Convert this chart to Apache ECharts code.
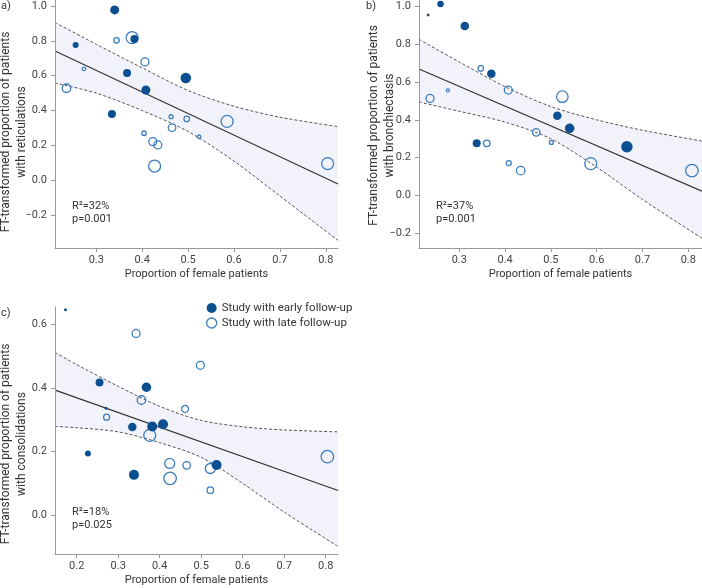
<!DOCTYPE html>
<html>
<head>
<meta charset="utf-8">
<script src="https://cdn.jsdelivr.net/npm/echarts@6/dist/echarts.min.js"></script>
<style>
html, body { margin: 0; padding: 0; background: #fff; }
#main { width: 702px; height: 588px; }
</style>
</head>
<body>
<div id="main"></div>
<script>
// points are [proportion female, FT-transformed proportion, study weight]
// a) reticulations
var reticEarly = [[0.340, 0.977, 9], [0.255, 0.776, 6], [0.383, 0.811, 8], [0.367, 0.616, 8],
    [0.495, 0.587, 10.5], [0.408, 0.518, 9], [0.334, 0.380, 8]];
var reticLate = [[0.235, 0.528, 8.5], [0.273, 0.639, 3.5], [0.344, 0.803, 5.5], [0.378, 0.818, 12],
    [0.406, 0.679, 8], [0.463, 0.365, 4], [0.497, 0.352, 5.5], [0.465, 0.302, 7.5], [0.404, 0.270, 4.5],
    [0.423, 0.222, 8], [0.434, 0.203, 8], [0.427, 0.082, 12], [0.524, 0.250, 3.5], [0.585, 0.338, 12],
    [0.804, 0.096, 12]];
var reticBandX = [0.21, 0.3, 0.4, 0.5, 0.6, 0.7, 0.8266];
var reticUpper = [0.905, 0.78, 0.645, 0.515, 0.425, 0.362, 0.308];
var reticLower = [0.558, 0.50, 0.40, 0.28, 0.11, -0.09, -0.345];
var reticFit = [[0.21, 0.742], [0.8266, -0.021]];

// b) bronchiectasis
var bronchEarly = [[0.259, 1.011, 6.5], [0.312, 0.895, 8.5], [0.370, 0.643, 8.5], [0.514, 0.422, 8.5],
    [0.541, 0.355, 9.5], [0.338, 0.276, 8], [0.666, 0.258, 11.5]];
var bronchLate = [[0.236, 0.513, 8], [0.275, 0.555, 3], [0.347, 0.671, 5.5], [0.407, 0.557, 8],
    [0.525, 0.522, 11.5], [0.468, 0.334, 7.5], [0.501, 0.281, 4], [0.360, 0.276, 6.5], [0.408, 0.172, 5],
    [0.434, 0.132, 8.5], [0.587, 0.169, 12], [0.808, 0.132, 12.5]];
var bronchOther = [[0.232, 0.953, 2.5]];
var bronchBandX = [0.212, 0.3, 0.4, 0.5, 0.6, 0.7, 0.83];
var bronchUpper = [0.825, 0.705, 0.575, 0.47, 0.40, 0.345, 0.288];
var bronchLower = [0.494, 0.445, 0.388, 0.30, 0.15, -0.02, -0.225];
var bronchFit = [[0.212, 0.668], [0.83, 0.024]];

// c) consolidations
var consolEarly = [[0.173, 0.645, 3], [0.255, 0.417, 8], [0.368, 0.402, 9.5], [0.271, 0.336, 3],
    [0.334, 0.277, 8.5], [0.382, 0.279, 10], [0.408, 0.286, 10], [0.227, 0.194, 6], [0.338, 0.127, 10],
    [0.537, 0.158, 10]];
var consolLate = [[0.343, 0.571, 8], [0.498, 0.471, 8], [0.356, 0.362, 8.5], [0.461, 0.334, 7],
    [0.272, 0.308, 6], [0.376, 0.251, 12], [0.424, 0.163, 10], [0.465, 0.157, 7.5], [0.522, 0.147, 10],
    [0.425, 0.116, 12.5], [0.522, 0.079, 6.5], [0.804, 0.184, 12.5]];
var consolBandX = [0.148, 0.2, 0.3, 0.4, 0.5, 0.6, 0.7, 0.83];
var consolUpper = [0.511, 0.473, 0.405, 0.342, 0.298, 0.278, 0.268, 0.262];
var consolLower = [0.279, 0.275, 0.262, 0.228, 0.182, 0.10, 0.01, -0.098];
var consolFit = [[0.148, 0.393], [0.83, 0.078]];

var statsText = [['R\u00b2=32%', 'p=0.001'], ['R\u00b2=37%', 'p=0.001'], ['R\u00b2=18%', 'p=0.025']];
var yNames = ['FT-transformed proportion of patients\nwith reticulations',
    'FT-transformed proportion of patients\nwith bronchiectasis',
    'FT-transformed proportion of patients\nwith consolidations'];
var xTicksAB = [0.3, 0.4, 0.5, 0.6, 0.7, 0.8];
var xTicksC = [0.2, 0.3, 0.4, 0.5, 0.6, 0.7, 0.8];
var yTicksAB = [-0.2, 0, 0.2, 0.4, 0.6, 0.8, 1.0];
var yTicksC = [0, 0.2, 0.4, 0.6];

var FONT = 'Roboto, "Noto Sans", sans-serif';
var DARK = '#0b4f91';
var LIGHT = '#3b7dbf';
var BAND = '#f2f3fa';
var EARLY = 'Study with early follow-up';
var LATE = 'Study with late follow-up';

function fmt(v) {
    return (v < 0 ? '\u2212' : '') + Math.abs(v).toFixed(1);
}

function xAxisOf(idx, min, max, ticks) {
    return {
        type: 'value', gridIndex: idx, min: min, max: max,
        axisLine: { show: true, onZero: false, lineStyle: { color: '#999', width: 1 } },
        axisTick: { show: true, length: 4, customValues: ticks, lineStyle: { color: '#999' } },
        axisLabel: { customValues: ticks, formatter: fmt, fontSize: 11, color: '#444', margin: 7, fontFamily: FONT },
        splitLine: { show: false },
        name: 'Proportion of female patients', nameLocation: 'middle', nameGap: 21,
        nameTextStyle: { fontSize: 11, color: '#333', fontFamily: FONT },
        z: 10
    };
}

function yAxisOf(idx, min, max, ticks) {
    return {
        type: 'value', gridIndex: idx, min: min, max: max,
        axisLine: { show: true, onZero: false, lineStyle: { color: '#999', width: 1 } },
        axisTick: { show: true, length: 4, customValues: ticks, lineStyle: { color: '#999' } },
        axisLabel: { customValues: ticks, formatter: fmt, fontSize: 11, color: '#444', margin: 8, fontFamily: FONT },
        splitLine: { show: false },
        z: 10
    };
}

function panelSeries(idx, early, late, bandX, upper, lower, fit) {
    var dash = { color: '#555', width: 1, type: [3, 2] };
    return [{
        // upper CI, fill down to the axis
        type: 'line', xAxisIndex: idx, yAxisIndex: idx, silent: true,
        data: bandX.map(function (x, i) { return [x, upper[i]]; }),
        smooth: 0.3, symbol: 'none', lineStyle: dash,
        areaStyle: { color: BAND, opacity: 1, origin: 'start' }, z: 1
    }, {
        // lower CI, white below it leaves the band
        type: 'line', xAxisIndex: idx, yAxisIndex: idx, silent: true,
        data: bandX.map(function (x, i) { return [x, lower[i]]; }),
        smooth: 0.3, symbol: 'none', lineStyle: dash,
        areaStyle: { color: '#fff', opacity: 1, origin: 'start' }, z: 1
    }, {
        type: 'line', xAxisIndex: idx, yAxisIndex: idx, silent: true,
        data: fit, symbol: 'none', lineStyle: { color: '#333', width: 1.2 }, z: 2
    }, {
        type: 'scatter', name: LATE, xAxisIndex: idx, yAxisIndex: idx,
        data: late, symbol: 'circle',
        symbolSize: function (v) { return v[2]; },
        itemStyle: { color: 'rgba(255,255,255,0)', borderColor: LIGHT, borderWidth: 1.3, opacity: 1 }, z: 3
    }, {
        type: 'scatter', name: EARLY, xAxisIndex: idx, yAxisIndex: idx,
        data: early, symbol: 'circle',
        symbolSize: function (v) { return v[2]; },
        itemStyle: { color: DARK, opacity: 1 }, z: 4
    }];
}

var series = [].concat(
    panelSeries(0, reticEarly, reticLate, reticBandX, reticUpper, reticLower, reticFit),
    panelSeries(1, bronchEarly, bronchLate, bronchBandX, bronchUpper, bronchLower, bronchFit),
    panelSeries(2, consolEarly, consolLate, consolBandX, consolUpper, consolLower, consolFit)
);
series.push({
    type: 'scatter', name: 'other', xAxisIndex: 1, yAxisIndex: 1,
    data: bronchOther, symbol: 'rect',
    symbolSize: function (v) { return v[2]; },
    itemStyle: { color: '#111' }, z: 4
});

function txt(x, y, s, size, align, rot) {
    return {
        type: 'text', x: x, y: y, rotation: rot || 0, z: 100,
        style: {
            text: s, fill: '#333', font: size + 'px ' + FONT,
            align: align || 'left', verticalAlign: 'middle', lineHeight: 16
        }
    };
}

var graphics = [
    txt(1, 6, 'a)', 11), txt(366, 6, 'b)', 11), txt(1, 313, 'c)', 11),
    txt(72, 206, statsText[0][0], 11), txt(72, 219, statsText[0][1], 11),
    txt(436, 206, statsText[1][0], 11), txt(436, 219, statsText[1][1], 11),
    txt(72, 512.5, statsText[2][0], 11), txt(72, 525, statsText[2][1], 11),
    txt(13.5, 132, yNames[0], 12, 'center', Math.PI / 2),
    txt(382, 125.5, yNames[1], 12, 'center', Math.PI / 2),
    txt(13.5, 444, yNames[2], 12, 'center', Math.PI / 2)
];

var chart = echarts.init(document.getElementById('main'), null, { renderer: 'canvas' });
chart.setOption({
    animation: false,
    backgroundColor: '#fff',
    textStyle: { fontFamily: FONT },
    grid: [
        { left: 55, top: 0, width: 283, height: 248 },
        { left: 419, top: 0, width: 283, height: 248 },
        { left: 55, top: 307, width: 283, height: 247 }
    ],
    xAxis: [
        xAxisOf(0, 0.21, 0.8266, xTicksAB),
        xAxisOf(1, 0.212, 0.83, xTicksAB),
        xAxisOf(2, 0.1477, 0.8296, xTicksC)
    ],
    yAxis: [
        yAxisOf(0, -0.388, 1.034, yTicksAB),
        yAxisOf(1, -0.276, 1.032, yTicksAB),
        yAxisOf(2, -0.1215, 0.654, yTicksC)
    ],
    legend: {
        orient: 'vertical', left: 206, top: 302, padding: 0,
        itemWidth: 10, itemHeight: 10, itemGap: 3,
        textStyle: { fontSize: 11.5, color: '#333', fontFamily: FONT },
        data: [
            { name: EARLY, icon: 'circle', itemStyle: { color: DARK } },
            { name: LATE, icon: 'circle', itemStyle: { color: '#fff', borderColor: LIGHT, borderWidth: 1.3 } }
        ]
    },
    graphic: graphics,
    series: series
});
</script>
</body>
</html>
